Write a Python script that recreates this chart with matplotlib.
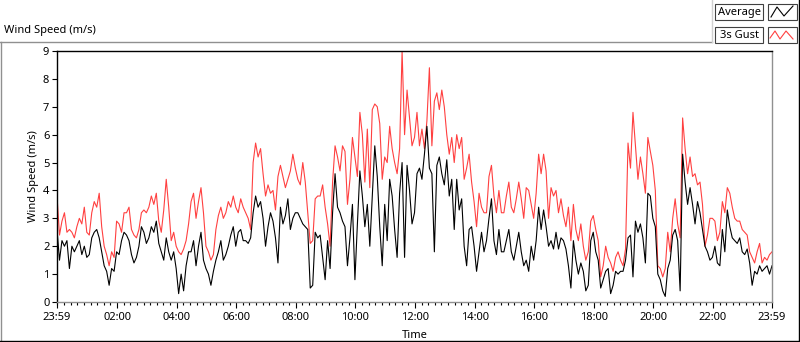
import numpy as np
import matplotlib
matplotlib.use("Agg")
import matplotlib.pyplot as plt
from matplotlib.lines import Line2D
from matplotlib.patches import Rectangle

plt.rcParams['font.family'] = ['Noto Sans', 'DejaVu Sans']

# minutes after 23:59 (previous day), one reading every 5 minutes
minutes = np.arange(0, 1441, 5)

# 3 s gust (m/s), one row per hour
gust = [
    3.8, 2.4, 2.9, 3.2, 2.5, 2.6, 2.5, 2.3, 2.7, 3.0, 2.8, 3.4,
    2.5, 2.4, 3.2, 3.6, 3.4, 3.9, 2.7, 2.0, 1.7, 1.3, 1.8, 1.6,
    2.9, 2.8, 2.5, 3.2, 3.2, 3.4, 2.6, 2.4, 2.3, 2.6, 3.2, 3.3,
    3.2, 3.4, 3.8, 3.5, 3.9, 2.9, 2.5, 3.3, 4.4, 3.4, 2.2, 2.5,
    2.0, 1.8, 1.7, 1.9, 2.2, 2.8, 3.6, 3.9, 3.0, 3.6, 4.1, 3.2,
    2.0, 1.8, 1.5, 1.7, 2.6, 3.1, 3.4, 3.0, 3.2, 3.6, 3.4, 3.8,
    3.4, 3.2, 3.7, 3.4, 3.2, 3.0, 2.6, 5.0, 5.7, 5.2, 5.5, 4.6,
    3.8, 4.2, 3.9, 4.0, 3.3, 4.5, 4.9, 4.5, 4.1, 4.4, 4.7, 5.3,
    4.8, 4.4, 4.2, 5.0, 4.3, 3.2, 2.1, 2.2, 3.7, 3.8, 3.8, 4.2,
    3.4, 2.8, 2.0, 4.3, 5.6, 5.2, 4.7, 5.6, 5.4, 3.5, 4.4, 5.9,
    5.2, 4.5, 6.8, 6.0, 4.3, 6.2, 4.1, 6.9, 7.1, 7.0, 6.4, 4.4,
    5.2, 5.0, 6.3, 5.5, 5.0, 4.6, 5.5, 9.0, 6.0, 7.6, 6.6, 5.6,
    5.9, 6.8, 5.6, 6.2, 5.5, 6.5, 8.4, 5.6, 7.2, 7.5, 6.9, 7.6,
    7.0, 6.0, 5.3, 5.9, 5.0, 6.0, 5.5, 5.9, 4.4, 4.8, 5.3, 4.3,
    3.6, 2.7, 3.9, 3.4, 3.2, 3.2, 4.5, 4.9, 3.8, 3.2, 4.0, 3.2,
    3.2, 3.8, 4.3, 3.4, 3.2, 3.7, 4.3, 3.7, 3.0, 4.1, 4.0, 3.5,
    3.0, 3.9, 5.3, 4.6, 5.3, 4.7, 3.0, 4.1, 3.8, 4.0, 3.2, 3.7,
    3.1, 2.7, 3.4, 2.2, 3.5, 2.6, 2.2, 2.8, 2.0, 1.5, 1.8, 2.9,
    3.1, 2.6, 2.2, 0.9, 1.3, 2.0, 1.6, 1.4, 1.1, 1.6, 1.8, 1.5,
    1.3, 1.9, 5.7, 4.8, 6.8, 5.6, 4.4, 5.2, 4.6, 3.9, 5.9, 5.4,
    4.9, 4.0, 1.3, 1.2, 0.9, 1.2, 2.5, 1.8, 3.0, 3.7, 2.8, 2.3,
    6.6, 5.5, 4.6, 5.2, 4.5, 4.6, 4.2, 4.3, 3.5, 2.0, 2.4, 3.0,
    3.0, 2.9, 2.2, 2.5, 3.6, 3.2, 4.1, 3.9, 3.4, 3.0, 2.9, 2.9,
    2.6, 2.5, 2.4, 1.8, 1.6, 1.4, 1.8, 2.1, 1.4, 1.6, 1.5, 1.7, 1.8,
]

# average wind speed (m/s)
average = [
    2.6, 1.5, 2.2, 2.0, 2.2, 1.2, 2.0, 1.8, 2.0, 2.2, 1.7, 2.0,
    1.6, 1.7, 2.3, 2.5, 2.6, 2.3, 1.8, 1.3, 1.1, 0.6, 1.2, 1.1,
    1.8, 1.7, 2.2, 2.5, 2.4, 2.2, 1.7, 1.4, 1.6, 2.0, 2.7, 2.5,
    2.1, 2.3, 2.7, 2.5, 2.9, 2.1, 1.8, 1.5, 2.3, 1.8, 1.5, 1.8,
    1.2, 0.3, 1.0, 0.4, 1.3, 1.8, 1.8, 2.2, 1.3, 2.0, 2.5, 1.5,
    1.2, 1.0, 0.6, 1.1, 1.5, 1.8, 2.2, 1.5, 1.7, 2.0, 2.4, 2.7,
    2.0, 2.5, 2.6, 2.2, 2.2, 2.1, 2.3, 3.2, 3.8, 3.4, 3.6, 3.0,
    2.0, 2.7, 3.2, 2.9, 2.3, 1.4, 3.4, 2.8, 3.1, 3.7, 2.6, 3.0,
    3.2, 3.2, 3.0, 2.8, 2.7, 2.6, 0.5, 0.6, 2.5, 2.3, 2.4, 1.6,
    0.8, 2.2, 1.2, 3.2, 4.6, 3.4, 3.2, 2.9, 2.7, 1.3, 2.3, 3.5,
    0.8, 2.8, 4.7, 3.8, 2.7, 3.5, 2.0, 3.8, 5.6, 4.5, 2.7, 1.3,
    3.5, 2.2, 4.4, 3.8, 2.6, 1.6, 3.9, 5.0, 1.6, 4.9, 4.0, 2.8,
    3.2, 4.6, 4.8, 4.4, 5.3, 6.3, 4.8, 4.6, 1.8, 4.9, 5.2, 4.6,
    4.2, 5.1, 3.8, 4.4, 2.6, 4.4, 3.3, 3.7, 2.0, 1.3, 2.6, 2.7,
    2.0, 1.1, 1.8, 2.5, 1.8, 2.2, 3.0, 3.7, 2.2, 1.7, 2.6, 1.8,
    1.8, 2.2, 2.6, 1.8, 1.5, 2.0, 2.5, 1.8, 1.3, 1.5, 1.1, 2.0,
    1.5, 2.2, 3.4, 2.6, 3.3, 2.7, 2.0, 2.2, 1.9, 2.5, 1.9, 2.3,
    2.2, 1.9, 1.3, 0.5, 2.2, 1.5, 1.0, 1.4, 1.1, 0.4, 0.6, 2.2,
    2.5, 1.8, 1.5, 0.5, 0.8, 1.1, 1.2, 0.3, 0.6, 1.1, 1.0, 1.1,
    1.1, 1.5, 2.3, 2.4, 0.9, 2.9, 2.5, 2.8, 2.3, 1.4, 3.9, 3.8,
    3.0, 2.7, 1.0, 0.8, 0.4, 0.2, 1.2, 1.5, 2.4, 2.6, 2.2, 0.4,
    5.3, 4.3, 3.5, 4.1, 3.5, 2.8, 3.6, 3.2, 2.6, 2.0, 1.8, 1.5,
    1.6, 2.0, 1.4, 1.3, 2.6, 1.8, 3.3, 2.7, 2.3, 2.2, 2.1, 2.3,
    1.8, 1.7, 1.9, 1.4, 0.6, 1.1, 1.0, 1.3, 1.1, 1.2, 1.3, 1.0, 1.3,
]

tick_pos = [0] + [121 + 120 * k for k in range(11)] + [1440]
tick_labels = ['23:59', '02:00', '04:00', '06:00', '08:00', '10:00', '12:00',
               '14:00', '16:00', '18:00', '20:00', '22:00', '23:59']

W, H = 800, 342
fig = plt.figure(figsize=(W / 100, H / 100), dpi=100)
fig.patch.set_facecolor('white')


def fx(x):
    return x / W


def fy(y):
    return 1 - y / H


def fline(xs, ys, color, lw=1.0):
    fig.add_artist(Line2D([fx(x) for x in xs], [fy(y) for y in ys],
                          transform=fig.transFigure, color=color, lw=lw))


ax = fig.add_axes([fx(57), fy(302), 715 / W, 251 / H])
ax.plot(minutes, gust, color='#ff4040', lw=0.8)
ax.plot(minutes, average, color='black', lw=0.8)

ax.set_xlim(0, 1440)
ax.set_ylim(0, 9)
ax.set_yticks(range(0, 10))
ax.set_xticks(tick_pos)
ax.set_xticklabels(tick_labels)
ax.set_xticks(np.arange(1, 1440, 40 / 3), minor=True)
ax.tick_params(axis='both', labelsize=8, colors='black', pad=2)
ax.tick_params(axis='x', which='major', length=4, width=0.8, pad=3)
ax.tick_params(axis='x', which='minor', length=2.5, width=0.8)
ax.tick_params(axis='y', length=3.5, width=0.8)
ax.set_ylabel('Wind Speed (m/s)', fontsize=8, labelpad=3)
ax.set_xlabel('Time', fontsize=8, labelpad=5)

ax.spines['left'].set_color('black')
ax.spines['top'].set_color('black')
ax.spines['right'].set_color('#909090')
ax.spines['bottom'].set_color('#909090')
for s in ax.spines.values():
    s.set_linewidth(1.0)

# panel frame and chart title
fig.text(fx(4), fy(30), 'Wind Speed (m/s)', fontsize=8, va='center', ha='left')
fline([0, 712], [42, 42], '#909090')
fline([712, 712], [0, 42], '#d0d0d0')
fline([0.5, 0.5], [42, 341], '#909090')
fline([0, 800], [340.5, 340.5], 'black')
fline([798.5, 798.5], [0, 341], 'black')

# legend boxes
for top, name, col, zig in [
        (4, 'Average', 'black', [(771, 17), (777, 7), (784, 16), (793, 6)]),
        (27, '3s Gust', '#ff4040', [(770, 38), (775, 31), (780, 39), (786, 31), (793, 39)])]:
    fig.add_artist(Rectangle((fx(715), fy(top + 16)), 48 / W, 16 / H,
                             transform=fig.transFigure, fc='white', ec='#404040', lw=0.8))
    fig.add_artist(Rectangle((fx(768), fy(top + 16)), 29 / W, 16 / H,
                             transform=fig.transFigure, fc='white', ec='#404040', lw=0.8))
    fig.text(fx(739), fy(top + 8), name, fontsize=8, ha='center', va='center')
    fline([p[0] for p in zig], [p[1] for p in zig], col, lw=0.8)

fig.savefig('out.png', dpi=100)
